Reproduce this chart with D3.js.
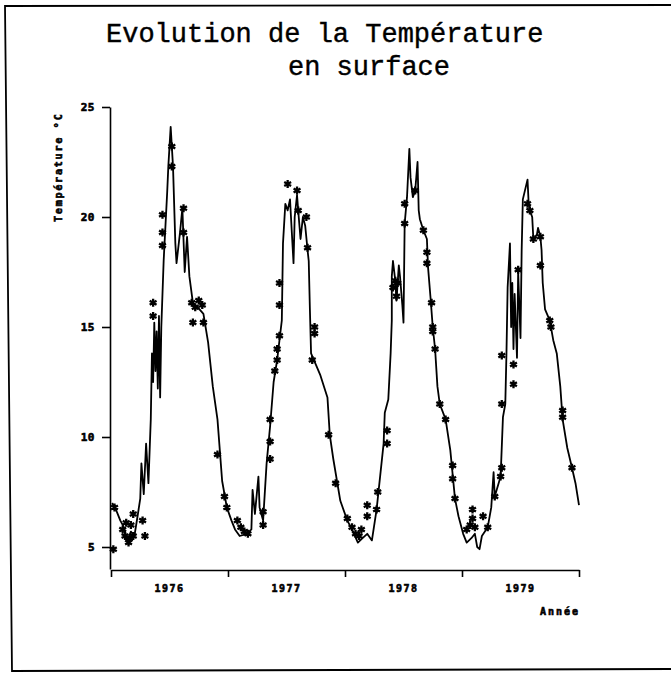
<html>
<head>
<style>
  body { margin: 0; background: #fff; }
  .axis path, .axis line { stroke: #000; stroke-width: 1.6px; }
  .curve { fill: none; stroke: #000; stroke-width: 1.8px; stroke-linejoin: round; }
  .obs { fill: none; stroke: #000; stroke-width: 2.3px; }
  .lbl { font-family: "DejaVu Sans Mono", monospace; font-weight: bold; fill: #000; stroke: #000; stroke-width: 0.6px; }
</style>
</head>
<body>
<svg width="671" height="673"></svg>
<script src="https://cdn.jsdelivr.net/npm/d3@7"></script>
<script>

// continuous series (decimal year, temperature °C)
var lineYears = [1976.01,1976.05,1976.08,1976.11,1976.14,1976.17,1976.20,1976.23,1976.25,1976.26,1976.28,1976.30,1976.32,1976.34,1976.35,1976.36,1976.37,1976.38,1976.39,1976.40,1976.41,1976.42,1976.43,1976.45,1976.48,1976.49,1976.51,1976.53,1976.55,1976.56,1976.59,1976.61,1976.63,1976.65,1976.67,1976.70,1976.74,1976.79,1976.83,1976.87,1976.91,1976.95,1976.99,
  1977.03,1977.06,1977.10,1977.16,1977.20,1977.21,1977.23,1977.26,1977.27,1977.30,1977.33,1977.36,1977.39,1977.42,1977.46,1977.47,1977.49,1977.51,1977.53,1977.56,1977.57,1977.59,1977.60,1977.62,1977.64,1977.66,1977.68,1977.69,1977.70,1977.71,1977.75,1977.79,1977.85,1977.87,1977.90,1977.96,
  1978.02,1978.06,1978.11,1978.15,1978.19,1978.23,1978.27,1978.30,1978.33,1978.34,1978.37,1978.39,1978.40,1978.40,1978.41,1978.43,1978.44,1978.46,1978.47,1978.49,1978.50,1978.51,1978.53,1978.55,1978.56,1978.58,1978.60,1978.62,1978.63,1978.64,1978.67,1978.70,1978.71,1978.73,1978.75,1978.77,1978.79,1978.81,1978.86,1978.90,1978.94,1978.97,
  1979.01,1979.04,1979.08,1979.11,1979.13,1979.15,1979.17,1979.22,1979.25,1979.27,1979.28,1979.33,1979.35,1979.37,1979.38,1979.39,1979.41,1979.42,1979.43,1979.44,1979.45,1979.47,1979.48,1979.50,1979.51,1979.52,1979.56,1979.57,1979.58,1979.60,1979.61,1979.64,1979.65,1979.67,1979.68,1979.69,1979.71,1979.75,1979.78,1979.81,1979.84,1979.86,1979.90,1979.94,1979.97,1980.00];
var lineTemps = [7.0,6.6,6.2,5.9,5.3,5.7,5.5,6.5,7.2,8.8,7.4,9.7,7.9,10.8,13.8,12.5,15.2,13.0,14.8,12.2,15.5,11.8,15.0,18.0,21.1,22.3,24.1,22.3,18.8,17.9,19.3,20.4,17.5,19.1,17.3,16.1,15.9,15.6,14.3,12.3,10.8,8.0,6.8,
  6.2,5.8,5.5,5.6,5.8,7.6,6.5,8.2,6.8,6.2,8.8,10.5,12.5,13.5,15.3,18.8,20.6,20.3,20.8,17.9,20.0,21.0,20.3,19.0,20.0,19.6,18.5,18.0,15.8,13.8,13.3,12.8,11.8,10.1,9.0,7.1,
  6.2,5.8,5.2,5.4,5.6,5.3,6.7,8.2,9.7,11.1,11.7,13.8,15.3,17.3,18.0,17.1,16.2,17.8,17.3,16.0,15.2,19.7,20.9,23.1,21.8,20.9,21.2,22.5,20.3,19.9,19.4,19.0,17.7,16.4,15.0,14.0,12.3,11.5,10.8,9.4,7.2,6.4,
  5.6,5.2,5.4,5.6,5.0,4.9,5.5,5.9,6.8,8.4,7.3,8.2,10.9,11.5,13.8,16.8,18.8,15.0,17.0,14.0,16.5,13.6,17.5,14.5,18.5,20.8,21.7,20.6,20.3,20.0,19.0,19.2,19.5,19.1,18.5,17.0,15.8,15.3,14.4,13.8,12.3,10.8,9.5,8.6,7.9,6.9];

// measured points (asterisks)
var obsYears = [1976.03,1976.02,1976.10,1976.12,1976.13,1976.15,1976.16,1976.17,1976.19,1976.19,1976.27,1976.29,1976.36,1976.36,1976.44,1976.44,1976.44,1976.52,1976.52,1976.62,1976.62,1976.69,1976.70,1976.72,1976.75,1976.78,1976.79,1976.91,1976.97,1976.99,
  1977.08,1977.11,1977.14,1977.17,1977.30,1977.30,1977.36,1977.36,1977.36,1977.40,1977.42,1977.42,1977.44,1977.44,1977.44,1977.51,1977.59,1977.60,1977.67,1977.68,1977.72,1977.74,1977.74,1977.86,1977.92,
  1978.02,1978.06,1978.09,1978.12,1978.14,1978.19,1978.19,1978.27,1978.28,1978.36,1978.36,1978.41,1978.43,1978.44,1978.45,1978.51,1978.51,1978.60,1978.67,1978.70,1978.70,1978.74,1978.75,1978.75,1978.77,1978.81,1978.86,1978.92,1978.92,1978.94,
  1979.04,1979.07,1979.09,1979.09,1979.11,1979.18,1979.22,1979.28,1979.33,1979.34,1979.34,1979.34,1979.44,1979.44,1979.48,1979.56,1979.58,1979.61,1979.67,1979.67,1979.75,1979.76,1979.86,1979.86,1979.94];
var obsTemps = [6.8,4.9,5.8,5.5,6.1,5.2,5.4,6.0,5.5,6.5,6.2,5.5,16.1,15.5,20.1,19.3,18.7,22.3,23.2,20.4,19.3,16.1,15.2,15.9,16.2,16.0,15.2,9.2,7.3,6.8,
  6.2,5.9,5.7,5.6,6.0,6.6,9.0,9.8,10.8,13.0,13.5,14.0,14.6,16.0,17.0,21.5,21.2,20.3,20.0,18.6,13.5,14.7,15.0,10.1,7.9,
  6.3,5.9,5.6,5.5,5.8,6.4,6.9,6.7,7.5,9.7,10.3,16.8,17.1,16.4,17.0,19.7,20.6,21.2,19.4,18.4,17.9,16.1,15.0,14.8,14.0,11.5,10.8,8.7,8.1,7.2,
  5.8,6.0,6.3,6.7,5.9,6.4,5.9,7.3,8.2,8.6,11.5,13.7,13.3,12.4,17.6,20.6,20.3,19.0,19.1,17.8,15.3,15.0,11.2,10.9,8.6];

var yearTicks = [1976, 1977, 1978, 1979, 1980];
var yearLabels = ["1976", "1977", "1978", "1979"];
var tempTicks = [5, 10, 15, 20, 25];

var svg = d3.select("svg");

// scanned page frame
svg.append("path")
    .attr("d", "M671,5 L5,6 L12,671 L671,669")
    .attr("fill", "none")
    .attr("stroke", "#000")
    .attr("stroke-width", 1.8);

var x = d3.scaleLinear().domain([1976, 1980]).range([111, 579]);
var y = d3.scaleLinear().domain([4, 25]).range([569, 107]);

// title
var title = svg.append("text")
    .attr("font-family", "'Liberation Mono', monospace")
    .attr("font-size", 27)
    .attr("fill", "#000")
    .attr("stroke", "#000")
    .attr("stroke-width", 0.4);
title.append("tspan").attr("x", 106).attr("y", 42).text("Evolution de la Température");
title.append("tspan").attr("x", 288).attr("y", 75).text("en surface");

// axes
svg.append("g")
    .attr("class", "axis")
    .attr("transform", "translate(0,570)")
    .call(d3.axisBottom(x).tickValues(yearTicks).tickSizeInner(7).tickSizeOuter(0).tickFormat(""));

svg.append("g")
    .attr("class", "axis")
    .attr("transform", "translate(110,0)")
    .call(d3.axisLeft(y).tickValues(tempTicks).tickSizeInner(8).tickSizeOuter(0).tickFormat(""));

svg.selectAll(".ylab")
    .data(tempTicks)
  .enter().append("text")
    .attr("class", "lbl")
    .attr("x", 95)
    .attr("y", function(d) { return y(d) + 4; })
    .attr("text-anchor", "end")
    .attr("font-size", 11)
    .attr("letter-spacing", 0.5)
    .text(function(d) { return d; });

svg.selectAll(".xlab")
    .data(yearLabels)
  .enter().append("text")
    .attr("class", "lbl")
    .attr("x", function(d) { return x(+d + 0.5); })
    .attr("y", 592)
    .attr("text-anchor", "middle")
    .attr("font-size", 10)
    .attr("letter-spacing", 1.5)
    .text(function(d) { return d; });

svg.append("text")
    .attr("class", "lbl")
    .attr("x", 580)
    .attr("y", 615)
    .attr("text-anchor", "end")
    .attr("font-size", 10)
    .attr("letter-spacing", 2)
    .text("Année");

svg.append("text")
    .attr("class", "lbl")
    .attr("transform", "translate(62,222) rotate(-90)")
    .attr("font-size", 10)
    .attr("letter-spacing", 1.8)
    .text("Température °C");

// series
var line = d3.line()
    .x(function(d, i) { return x(lineYears[i]); })
    .y(function(d) { return y(d); });

svg.append("path")
    .datum(lineTemps)
    .attr("class", "curve")
    .attr("d", line);

var star = d3.symbol().type(d3.symbolAsterisk).size(44);

svg.selectAll(".obs")
    .data(obsTemps)
  .enter().append("path")
    .attr("class", "obs")
    .attr("transform", function(d, i) { return "translate(" + x(obsYears[i]) + "," + y(d) + ")"; })
    .attr("d", star);

</script>
</body>
</html>
